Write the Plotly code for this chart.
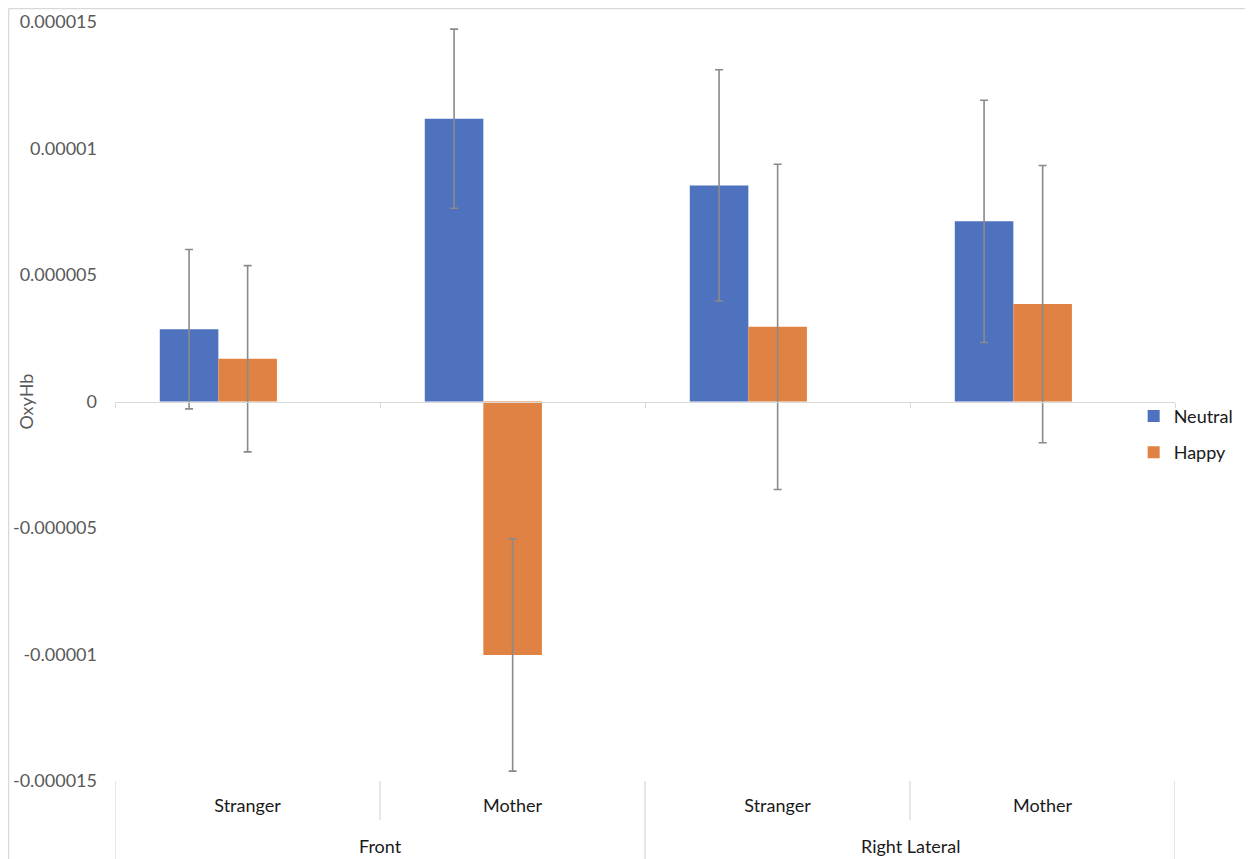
import plotly.graph_objects as go

# ---- data ----
subcategories = ["Stranger", "Mother", "Stranger", "Mother"]
groups = ["Front", "Right Lateral"]
neutral = [2.86e-6, 11.18e-6, 8.54e-6, 7.12e-6]
neutral_err = [3.15e-6, 3.54e-6, 4.57e-6, 4.79e-6]
happy = [1.69e-6, -10.02e-6, 2.95e-6, 3.85e-6]
happy_err = [3.68e-6, 4.59e-6, 6.43e-6, 5.48e-6]
ytick_vals = [-15e-6, -10e-6, -5e-6, 0, 5e-6, 10e-6, 15e-6]
ytick_text = ["-0.000015", "-0.00001", "-0.000005", "0", "0.000005", "0.00001", "0.000015"]
y_title = "OxyHb"

FONT = "Lato"
GRAY_LINE = "#d9d9d9"
ERR_COLOR = "#8a8a8a"

xpos = list(range(len(subcategories)))
bar_w = 0.221

fig = go.Figure()
fig.add_trace(go.Bar(
    x=xpos, y=neutral, name="Neutral", width=bar_w, offset=-0.331,
    marker=dict(color="#4F72BE", line=dict(width=0)),
    error_y=dict(type="data", array=neutral_err, color=ERR_COLOR, thickness=1.6, width=4),
    legendgroup="n",
))
fig.add_trace(go.Bar(
    x=xpos, y=happy, name="Happy", width=bar_w, offset=-0.110,
    marker=dict(color="#E08243", line=dict(width=0)),
    error_y=dict(type="data", array=happy_err, color=ERR_COLOR, thickness=1.6, width=4),
    legendgroup="h",
))
# invisible trace to host the zero-crossing axis
fig.add_trace(go.Scatter(x=[-0.5, 3.5], y=[0, 0], xaxis="x2", mode="lines",
                         line=dict(width=0), showlegend=False, hoverinfo="skip"))

shapes = []
# category dividers below the plot
for b in [-0.5, 1.5, 3.5]:
    shapes.append(dict(type="line", xref="x", yref="paper", x0=b, x1=b, y0=0, y1=-0.12,
                       line=dict(color=GRAY_LINE, width=1.3)))
for b in [0.5, 2.5]:
    shapes.append(dict(type="line", xref="x", yref="paper", x0=b, x1=b, y0=0, y1=-0.051,
                       line=dict(color=GRAY_LINE, width=1.3)))
# chart frame (left and top)
shapes.append(dict(type="line", xref="paper", yref="paper", x0=-0.1003, x1=-0.1003,
                   y0=-0.2, y1=1.0178, line=dict(color=GRAY_LINE, width=1.3)))
shapes.append(dict(type="line", xref="paper", yref="paper", x0=-0.1003, x1=1.2,
                   y0=1.0178, y1=1.0178, line=dict(color=GRAY_LINE, width=1.3)))

annotations = []
for i, g in enumerate(groups):
    annotations.append(dict(text=g, xref="x", yref="paper", x=2 * i + 0.5, y=-0.0856,
                            showarrow=False, xanchor="center", yanchor="middle",
                            font=dict(family=FONT, size=18, color="#1a1a1a")))
annotations.append(dict(text=y_title, xref="paper", yref="paper", x=-0.0849, y=0.5,
                        textangle=-90, showarrow=False, xanchor="center", yanchor="middle",
                        font=dict(family=FONT, size=18, color="#595959")))

fig.update_layout(
    width=1245, height=851,
    margin=dict(l=107, r=78, t=14, b=78, autoexpand=False),
    plot_bgcolor="white", paper_bgcolor="white",
    barmode="overlay",
    font=dict(family=FONT, size=18, color="#595959"),
    xaxis=dict(range=[-0.5, 3.5], tickvals=xpos, ticktext=subcategories,
               showgrid=False, zeroline=False, showline=False, ticks="",
               tickfont=dict(family=FONT, size=18, color="#1a1a1a"),
               ticklabelstandoff=12, automargin=False),
    xaxis2=dict(overlaying="x", anchor="free", position=0.5, range=[-0.5, 3.5],
                showline=True, linecolor=GRAY_LINE, linewidth=1.3,
                ticks="outside", ticklen=5, tickcolor=GRAY_LINE, tickwidth=1.3,
                tickvals=[-0.5, 0.5, 1.5, 2.5, 3.5], showticklabels=False,
                showgrid=False, zeroline=False, automargin=False),
    yaxis=dict(range=[-15e-6, 15e-6], tickvals=ytick_vals, ticktext=ytick_text,
               showgrid=False, zeroline=False, showline=False, ticks="",
               tickfont=dict(family=FONT, size=18, color="#595959"),
               ticklabelstandoff=17, automargin=False),
    legend=dict(x=0.961, xanchor="left", y=0.505, yanchor="top",
                traceorder="grouped", tracegroupgap=10,
                font=dict(family=FONT, size=18, color="#1a1a1a"),
                bgcolor="rgba(0,0,0,0)"),
    shapes=shapes,
    annotations=annotations,
)

fig.write_html("out.html")
